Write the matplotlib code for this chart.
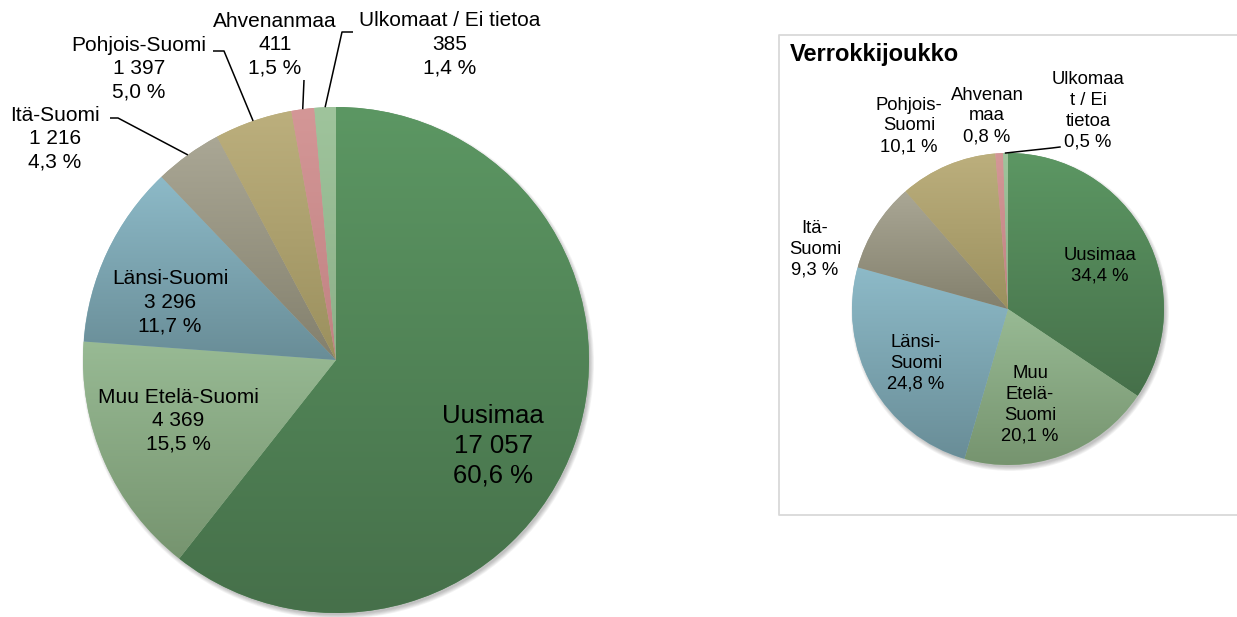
import numpy as np
import matplotlib.pyplot as plt
from matplotlib.colors import LinearSegmentedColormap
from matplotlib.patches import Circle

plt.rcParams['font.family'] = ['Liberation Sans', 'DejaVu Sans']

# data
regions = ["Uusimaa", "Muu Etelä-Suomi", "Länsi-Suomi", "Itä-Suomi",
           "Pohjois-Suomi", "Ahvenanmaa", "Ulkomaat / Ei tietoa"]
counts = [17057, 4369, 3296, 1216, 1397, 411, 385]

ref_names = ["Uusimaa", "Muu\nEtelä-\nSuomi", "Länsi-\nSuomi", "Itä-\nSuomi",
             "Pohjois-\nSuomi", "Ahvenan\nmaa", "Ulkomaa\nt / Ei\ntietoa"]
ref_pct = [34.4, 20.1, 24.8, 9.3, 10.1, 0.8, 0.5]

# slice colours, lighter at top / darker at bottom (excel gradient look)
top_colors = ["#5c9763", "#98ba94", "#8dbac8", "#aaa795", "#bcaf7d", "#d49797", "#9fc49c"]
bottom_colors = ["#46704a", "#76946f", "#698d97", "#83806d", "#9b905e", "#c08282", "#8db089"]

W, H = 1237, 617
fig = plt.figure(figsize=(W / 100, H / 100), dpi=100)
ax = fig.add_axes([0, 0, 1, 1])


def py(y):
    # pixel row (from top) -> data y
    return H - y


def fmt_num(v):
    return f"{v:,}".replace(",", " ")


def fmt_pct(p):
    return f"{p:.1f}".replace(".", ",") + " %"


def rim_point(values, idx, center, radius):
    total = float(np.sum(values))
    frac = np.cumsum(values) / total
    mid = frac[idx] - values[idx] / total / 2
    ang = np.deg2rad(90 - 360 * mid)
    return center[0] + radius * np.cos(ang), center[1] + radius * np.sin(ang)


def draw_pie(values, center, radius):
    # soft shadow
    for k in range(6):
        ax.add_patch(Circle((center[0] + 2, center[1] - 3), radius + 3 - k * 0.8,
                            color='k', alpha=0.045, lw=0, zorder=1))
    wedges, _ = ax.pie(values, colors=top_colors, center=center, radius=radius,
                       startangle=90, counterclock=False,
                       wedgeprops=dict(linewidth=0))
    grad = np.linspace(0, 1, 256).reshape(-1, 1)
    for w, c0, c1 in zip(wedges, top_colors, bottom_colors):
        w.set_zorder(2)
        ext = w.get_path().get_extents()
        cmap = LinearSegmentedColormap.from_list('g', [c1, c0])
        im = ax.imshow(grad, cmap=cmap, extent=[ext.x0, ext.x1, ext.y0, ext.y1],
                       origin='lower', aspect='auto', zorder=3, interpolation='bilinear')
        im.set_clip_path(w)
    return wedges


# ---- left pie ----
c_left = (336, py(360))
r_left = 253
draw_pie(counts, c_left, r_left)

total = sum(counts)
left_pos = [(493, 446), (178, 421), (170, 302), (55, 139), (139, 69), (275, 45), (450, 44)]
for i, (name, v) in enumerate(zip(regions, counts)):
    txt = f"{name}\n{fmt_num(v)}\n{fmt_pct(100 * v / total)}"
    fs = 18.5 if i == 0 else 15
    ax.text(left_pos[i][0], py(left_pos[i][1]), txt, ha='center', va='center',
            fontsize=fs, linespacing=1.3, color='black', zorder=5)

# leader lines: (label end, elbow) in pixels
left_leaders = {3: [(110, 118), (118, 118)],
                4: [(213, 51), (224, 51)],
                5: [(304, 80)],
                6: [(353, 32), (342, 32)]}
for idx, pts in left_leaders.items():
    ax_, ay_ = rim_point(counts, idx, c_left, r_left)
    xs = [p[0] for p in pts] + [ax_]
    ys = [py(p[1]) for p in pts] + [ay_]
    ax.plot(xs, ys, color='black', lw=1.1, zorder=5, solid_capstyle='butt')

# ---- right pie (Verrokkijoukko) ----
# chart frame, cut off at the right edge of the image
ax.plot([W + 5, 779, 779, W + 5], [py(35), py(35), py(515), py(515)],
        color='#d9d9d9', lw=1.3, zorder=0)
ax.text(790, py(54), "Verrokkijoukko", ha='left', va='center', fontsize=17,
        fontweight='bold', color='black', zorder=5)

c_right = (1008, py(309))
r_right = 156
draw_pie(ref_pct, c_right, r_right)

right_pos = [(1100, 266), (1030, 405), (916, 363), (815, 249), (909, 126), (987, 116), (1088, 111)]
for i, (name, p) in enumerate(zip(ref_names, ref_pct)):
    ax.text(right_pos[i][0], py(right_pos[i][1]), f"{name}\n{fmt_pct(p)}",
            ha='center', va='center', fontsize=13.3, linespacing=1.3,
            color='black', zorder=5)

rx, ry = rim_point(ref_pct, 6, c_right, r_right)
ax.plot([1060, 1052, rx], [py(147), py(148), ry], color='black', lw=1.1, zorder=5)

ax.set_xlim(0, W)
ax.set_ylim(0, H)
ax.set_aspect('auto')
ax.axis('off')

fig.savefig("out.png", dpi=100, facecolor='white')
